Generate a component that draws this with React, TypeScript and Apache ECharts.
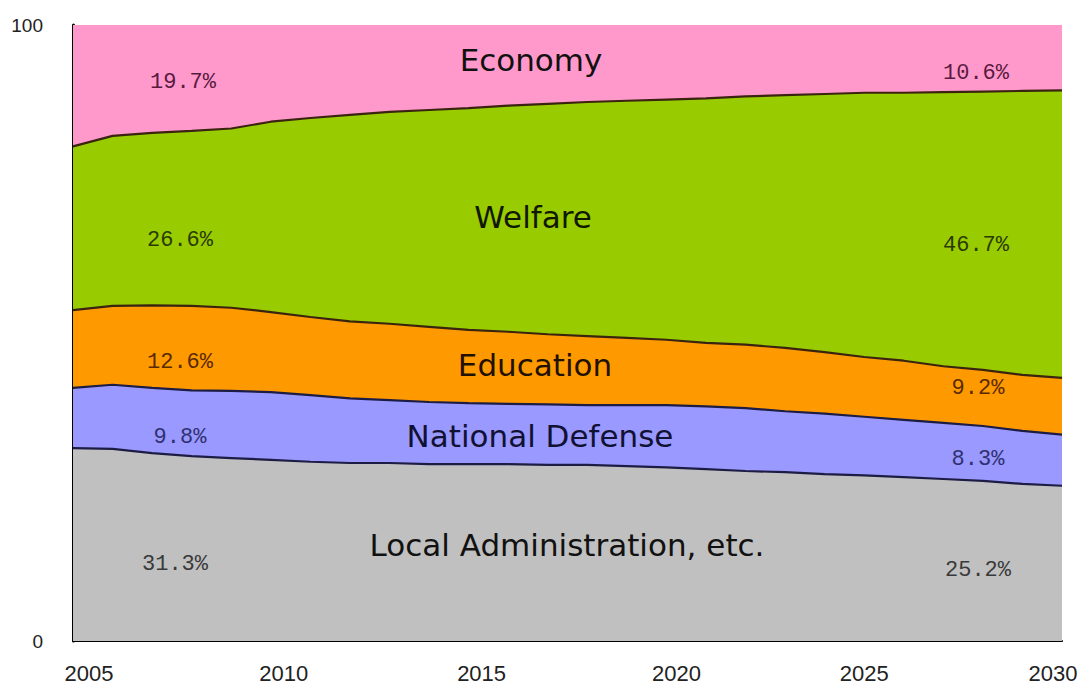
import React, { useEffect, useRef } from "react";
import * as echarts from "echarts";

const years = ["2005", "2006", "2007", "2008", "2009", "2010", "2011", "2012", "2013", "2014", "2015", "2016", "2017", "2018", "2019", "2020", "2021", "2022", "2023", "2024", "2025", "2026", "2027", "2028", "2029", "2030"];

const localAdmin = [31.3, 31.2, 30.5, 30.0, 29.7, 29.4, 29.1, 28.9, 28.9, 28.7, 28.7, 28.7, 28.6, 28.6, 28.4, 28.2, 27.9, 27.6, 27.4, 27.1, 26.9, 26.6, 26.3, 26.0, 25.5, 25.2];
const defense = [9.8, 10.4, 10.6, 10.7, 10.9, 11.0, 10.8, 10.5, 10.2, 10.1, 9.9, 9.8, 9.8, 9.7, 9.9, 10.1, 10.2, 10.2, 9.9, 9.8, 9.5, 9.3, 9.1, 8.9, 8.6, 8.3];
const education = [12.6, 12.8, 13.4, 13.7, 13.5, 13.0, 12.7, 12.5, 12.4, 12.2, 11.9, 11.7, 11.4, 11.2, 10.9, 10.6, 10.3, 10.3, 10.3, 10.0, 9.7, 9.6, 9.2, 9.1, 9.1, 9.2];
const welfare = [26.6, 27.6, 28.0, 28.4, 29.1, 30.9, 32.3, 33.5, 34.4, 35.2, 36.0, 36.7, 37.4, 38.0, 38.5, 39.0, 39.7, 40.3, 41.0, 41.9, 42.9, 43.5, 44.5, 45.2, 46.1, 46.7];
const economy = [19.7, 18.0, 17.5, 17.2, 16.8, 15.7, 15.1, 14.6, 14.1, 13.8, 13.5, 13.1, 12.8, 12.5, 12.3, 12.1, 11.9, 11.6, 11.4, 11.2, 11.0, 11.0, 10.9, 10.8, 10.7, 10.6];

const seriesNames = ["Local Administration, etc.", "National Defense", "Education", "Welfare", "Economy"];
const startLabels = ["31.3%", "9.8%", "12.6%", "26.6%", "19.7%"];
const endLabels = ["25.2%", "8.3%", "9.2%", "46.7%", "10.6%"];

const fills = ["#c0c0c0", "#9999ff", "#ff9900", "#99cc00", "#ff99cc"];
const edges = ["#1c1c44", "#1c1c44", "#3a2410", "#3a2410", "#3a2410"];
const pctColors = ["#3a3a3a", "#303070", "#5a2a00", "#2a3a00", "#5a1a40"];
const nameColors = ["#111111", "#111133", "#221100", "#111800", "#111111"];

export default function App() {
  const ref = useRef<HTMLDivElement>(null);
  useEffect(() => {
    if (!ref.current) return;
    const chart = echarts.init(ref.current, null, { renderer: "svg" });
    const all = [localAdmin, defense, education, welfare, economy];
    const pctPos = [
      [[175, 564], [978, 570]],
      [[180, 437], [978, 459]],
      [[180, 362], [978, 388]],
      [[180, 240], [976, 245]],
      [[183, 82], [976, 73]],
    ];
    const namePos = [[567, 545], [540, 436], [535, 365], [533, 217], [531, 60]];
    const graphics: any[] = [];
    all.forEach((_, i) => {
      graphics.push({
        type: "text", x: pctPos[i][0][0], y: pctPos[i][0][1], z: 100,
        style: { text: startLabels[i], fill: pctColors[i], font: "22px 'Liberation Mono'", textAlign: "center", textVerticalAlign: "middle" },
      });
      graphics.push({
        type: "text", x: pctPos[i][1][0], y: pctPos[i][1][1], z: 100,
        style: { text: endLabels[i], fill: pctColors[i], font: "22px 'Liberation Mono'", textAlign: "center", textVerticalAlign: "middle" },
      });
      graphics.push({
        type: "text", x: namePos[i][0], y: namePos[i][1], z: 100,
        style: { text: seriesNames[i], fill: nameColors[i], font: "31px 'DejaVu Sans'", textAlign: "center", textVerticalAlign: "middle" },
      });
    });
    const lbl = { fontSize: 22, fontFamily: "Liberation Sans", color: "#222" };
    chart.setOption({
      animation: false,
      grid: { left: 73, right: 18, top: 25, bottom: 46, outerBoundsMode: "none", containLabel: false },
      xAxis: {
        type: "category", data: years, boundaryGap: false,
        axisLine: { show: true, lineStyle: { color: "#000", width: 2 } },
        axisTick: { show: false },
        splitLine: { show: false },
        axisLabel: {
          ...lbl, margin: 21, interval: 4,
          formatter: (v: string) => `{y${v}|${v}}`,
          rich: {
            y2005: { ...lbl, padding: [0, 0, 0, 32] },
            y2010: { ...lbl, padding: [0, 0, 0, 26] },
            y2015: { ...lbl, padding: [0, 0, 0, 26] },
            y2020: { ...lbl, padding: [0, 0, 0, 20] },
            y2025: { ...lbl },
            y2030: { ...lbl, padding: [0, 18, 0, 0] },
          },
        },
      },
      yAxis: {
        type: "value", min: 0, max: 100, interval: 100,
        axisLine: { show: true, lineStyle: { color: "#000", width: 3 } },
        axisTick: { show: false },
        splitLine: { show: false },
        axisLabel: { color: "#222", fontSize: 19, fontFamily: "Liberation Sans", margin: 30 },
      },
      series: all.map((vals, i) => ({
        name: seriesNames[i],
        type: "line",
        stack: "total",
        symbol: "none",
        data: vals,
        lineStyle: { color: edges[i], width: i === 4 ? 0 : 2.2 },
        areaStyle: { color: fills[i], opacity: 1 },
      })),
      graphic: graphics,
    });
    return () => chart.dispose();
  }, []);
  return <div ref={ref} style={{ position: "fixed", left: 0, top: 0, width: 1080, height: 687, background: "#fff" }} />;
}
